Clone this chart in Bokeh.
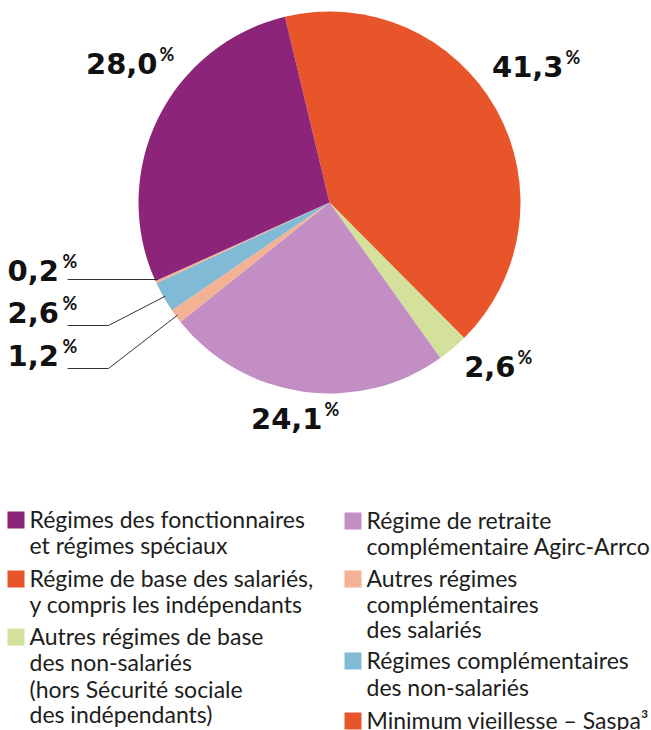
import math
from bokeh.plotting import figure
from bokeh.models import Range1d
from bokeh.core.properties import value
from bokeh.embed import file_html
from bokeh.resources import INLINE

W, H = 651, 730

# ---- data ----
slice_names = ["Régime de base des salariés", "Autres régimes de base des non-salariés",
               "Agirc-Arrco", "Autres régimes complémentaires des salariés",
               "Régimes complémentaires des non-salariés", "Minimum vieillesse – Saspa",
               "Régimes des fonctionnaires et régimes spéciaux"]
slice_values = [41.3, 2.6, 24.1, 1.2, 2.6, 0.2, 28.0]
slice_labels = ["41,3", "2,6", "24,1", "1,2", "2,6", "0,2", "28,0"]
slice_colors = ["#E9552A", "#D3E19B", "#C38EC3", "#F4B295", "#80BAD5", "#F4AE92", "#8C2479"]

legend_left = [
    ("#8C2479", ["Régimes des fonctionnaires", "et régimes spéciaux"]),
    ("#E9552A", ["Régime de base des salariés,", "y compris les indépendants"]),
    ("#D3E19B", ["Autres régimes de base", "des non-salariés", "(hors Sécurité sociale", "des indépendants)"]),
]
legend_right = [
    ("#C38EC3", ["Régime de retraite", "complémentaire Agirc-Arrco"]),
    ("#F4B295", ["Autres régimes", "complémentaires", "des salariés"]),
    ("#80BAD5", ["Régimes complémentaires", "des non-salariés"]),
    ("#E9552A", ["Minimum vieillesse – Saspa³"]),
]

# ---- layout ----
CX, CY, R = 329, 202, 191
START_DEG = 103.5
FONT = "Lato"
NUM_FONT = "DejaVu Sans"
NUM_SIZE = 29
LEG_SIZE = 23

def Y(py):
    return H - py

p = figure(width=W, height=H, output_backend="svg", toolbar_location=None,
           x_range=Range1d(0, W), y_range=Range1d(0, H), min_border=0,
           x_axis_location=None, y_axis_location=None)
p.grid.visible = False
p.outline_line_color = None
p.background_fill_color = "white"

total = sum(slice_values)
cum = 0.0
mids = []
starts, ends = [], []
for v in slice_values:
    a_hi = math.radians(START_DEG - cum / total * 360)
    cum += v
    a_lo = math.radians(START_DEG - cum / total * 360)
    starts.append(a_lo)
    ends.append(a_hi)
    mids.append((a_lo + a_hi) / 2)

p.wedge(x=[CX] * len(slice_values), y=[Y(CY)] * len(slice_values), radius=R,
        start_angle=starts, end_angle=ends, fill_color=slice_colors, line_color=None)

def edge(i, r=R - 2):
    a = mids[i]
    return CX + r * math.cos(a), CY - r * math.sin(a)

# value labels: (slice index, x, digit-bottom y, align, percent x)
lab_pos = {
    6: (157, 75, "right", 159),
    0: (563, 78, "right", 565),
    1: (515, 378, "right", 517),
    2: (322, 430, "right", 324),
    5: (7, 282, "left", 62),
    4: (7, 324, "left", 62),
    3: (7, 367, "left", 62),
}
NUM_OFF = 0.4 * NUM_SIZE
for i, (x, by, al, px) in lab_pos.items():
    p.text(x=[x], y=[Y(by - NUM_OFF)], text=[slice_labels[i]], text_font=value(NUM_FONT),
           text_font_style="bold", text_font_size=f"{NUM_SIZE}px", text_align=al,
           text_baseline="alphabetic", text_color="#111111")
    p.text(x=[px], y=[Y(by - 33)], text=["%"], text_font=value(FONT),
           text_font_style="bold", text_font_size="18px", text_align="left",
           text_baseline="top", text_color="#111111")

# leader lines
ex, ey = edge(5)
p.line(x=[67, ex], y=[Y(279), Y(279)], line_color="#333333", line_width=1)
ex, ey = edge(4)
p.line(x=[67, 108, ex], y=[Y(325), Y(325), Y(ey)], line_color="#333333", line_width=1)
ex, ey = edge(3)
p.line(x=[67, 108, ex], y=[Y(368), Y(368), Y(ey)], line_color="#333333", line_width=1)

# legend
LEG_OFF = 0.38 * LEG_SIZE
def draw_legend(items, sq_x, tx_x, baselines):
    k = 0
    for color, lines in items:
        b0 = baselines[k]
        p.quad(left=[sq_x], right=[sq_x + 17], top=[Y(b0 - 16)], bottom=[Y(b0 + 1)],
               fill_color=color, line_color=None)
        for j, line in enumerate(lines):
            p.text(x=[tx_x], y=[Y(baselines[k] - LEG_OFF)], text=[line], text_font=value(FONT),
                   text_font_size=f"{LEG_SIZE}px", text_align="left", text_baseline="alphabetic",
                   text_color="#1d1d1b")
            k += 1

draw_legend(legend_left, 7, 29, [527, 553, 586, 612, 644, 670, 697, 722])
draw_legend(legend_right, 344, 366, [528, 554, 586, 612, 637, 668, 695, 728])

open("out.html", "w").write(file_html(p, INLINE))
